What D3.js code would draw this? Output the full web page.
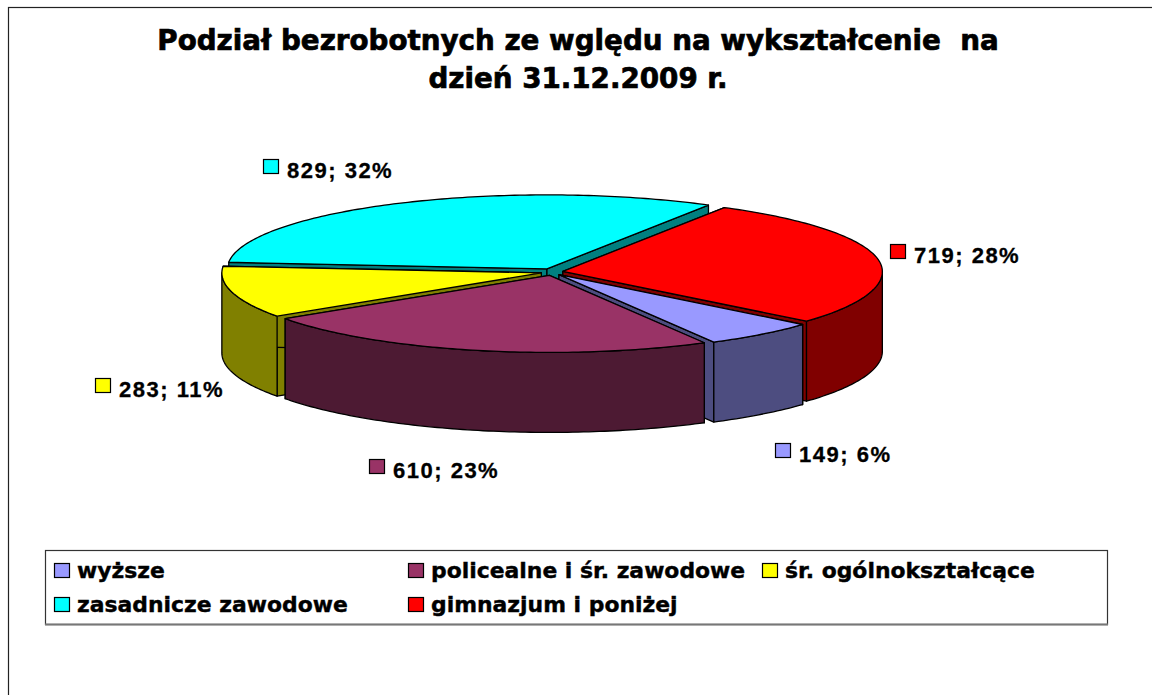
<!DOCTYPE html>
<html><head><meta charset="utf-8">
<style>html,body{margin:0;padding:0;background:#fff;overflow:hidden}svg{display:block}text{font-family:"DejaVu Sans",Verdana,sans-serif;font-weight:bold;fill:#000}</style>
<script src="https://cdn.jsdelivr.net/npm/d3@7"></script></head><body><div id="c"></div>
<script>
const categories=["wyższe","policealne i śr. zawodowe","śr. ogólnokształcące","zasadnicze zawodowe","gimnazjum i poniżej"];
const values=[149,610,283,829,719];
const shares=[6,23,11,32,28];
const topColors=["#9999FF","#993366","#FFFF00","#00FFFF","#FF0000"];
const sideColors=["#4D4D80","#4D1A33","#808000","#008080","#800000"];
const titleLines=["Podział bezrobotnych ze wględu na wykształcenie  na","dzień 31.12.2009 r."];

const W=1152,H=695;
const svg=d3.select("#c").append("svg").attr("width",W).attr("height",H);
svg.append("rect").attr("x",8.5).attr("y",7.5).attr("width",1200).attr("height",760).attr("fill","#fff").attr("stroke","#222").attr("stroke-width",1.2);

svg.selectAll("text.title").data(titleLines).join("text").attr("class","title")
  .attr("x",578).attr("y",(d,i)=>50+i*38).attr("text-anchor","middle").attr("font-size",27.75)
  .attr("stroke","#000").attr("stroke-width",0.7).style("white-space","pre").text(d=>d);

// pie geometry
const cx=552,cy=272,rx=319.5,ryFront=77,ryBack=74,depth=80,explodeX=11,explodeY=3.5;
const startDeg=130.3;
const pie=d3.pie().sort(null).startAngle(startDeg*Math.PI/180).endAngle((startDeg+360)*Math.PI/180);
const arcs=pie(values);
const order=[3,4,2,0,1];
const line=d3.line();
const PI=Math.PI;
function sample(a0,a1){const n=Math.max(2,Math.ceil((a1-a0)*60));return d3.range(n+1).map(i=>a0+(a1-a0)*i/n);}
const g=svg.append("g").attr("stroke","#000").attr("stroke-width",1.3).attr("stroke-linejoin","round");
order.forEach(i=>{
  const a=arcs[i],mid=(a.startAngle+a.endAngle)/2;
  const ox=cx+explodeX*Math.sin(mid),oy=cy-explodeY*Math.cos(mid);
  const P=(t,z)=>{const c=Math.cos(t);return [ox+rx*Math.sin(t),oy-(c>0?ryBack:ryFront)*c+z];};
  const wall=t=>[[ox,oy],P(t,0),P(t,depth),[ox,oy+depth]];
  [a.startAngle,a.endAngle].forEach(t=>{
    g.append("path").attr("d",line(wall(t))+"Z").attr("fill",sideColors[i]);
  });
  // outer side: only the front half of the rim faces the viewer
  [0,2*PI].forEach(shift=>{
    const s0=Math.max(a.startAngle,PI/2+shift),s1=Math.min(a.endAngle,3*PI/2+shift);
    if(s1>s0){
      const fr=sample(s0,s1);
      const side=fr.map(t=>P(t,0)).concat(fr.slice().reverse().map(t=>P(t,depth)));
      g.append("path").attr("d",line(side)+"Z").attr("fill",sideColors[i]);
    }
  });
  const rim=sample(a.startAngle,a.endAngle);
  g.append("path").attr("d",line([[ox,oy]].concat(rim.map(t=>P(t,0))))+"Z").attr("fill",topColors[i]);
});

// data labels
const labelAnchor=[[775,443],[369,459],[95,378],[263,159],[890,244]];
const lab=svg.append("g");
values.forEach((v,i)=>{
  const [x,y]=labelAnchor[i];
  lab.append("rect").attr("x",x+.5).attr("y",y+.5).attr("width",15).attr("height",14).attr("fill",topColors[i]).attr("stroke","#000").attr("stroke-width",1.2);
  lab.append("text").attr("x",x+24).attr("y",y+18.5).attr("font-size",22).style("font-family","'Liberation Sans'").style("letter-spacing","1.5px").attr("stroke","#000").attr("stroke-width",0.3).text(v+"; "+shares[i]+"%");
});

// legend
svg.append("rect").attr("x",45.5).attr("y",550.5).attr("width",1062).attr("height",74).attr("fill","#fff").attr("stroke","#333").attr("stroke-width",1.2);
svg.append("line").attr("x1",45).attr("x2",1108).attr("y1",624.5).attr("y2",624.5).attr("stroke","#777").attr("stroke-width",2);
const legendX=[54,408,762,54,408],legendY=[563,563,563,597,597];
const lg=svg.append("g");
categories.forEach((c,i)=>{
  lg.append("rect").attr("x",legendX[i]+.5).attr("y",legendY[i]+.5).attr("width",15).attr("height",14).attr("fill",topColors[i]).attr("stroke","#000").attr("stroke-width",1.2);
  lg.append("text").attr("x",legendX[i]+23).attr("y",legendY[i]+15).attr("font-size",21.9).attr("stroke","#000").attr("stroke-width",0.4).text(c);
});
</script></body></html>
